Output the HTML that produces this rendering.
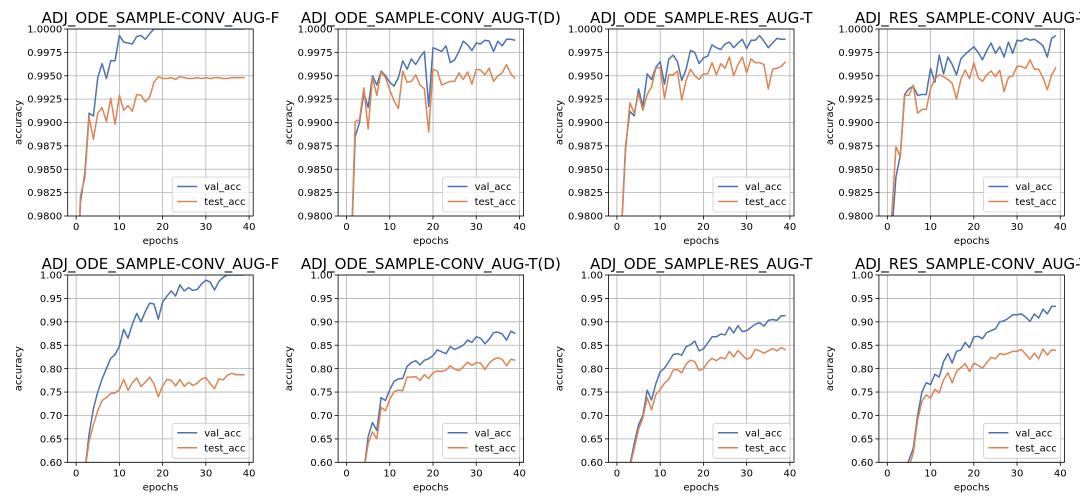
<!DOCTYPE html>
<html><head><meta charset="utf-8"><style>
html,body{margin:0;padding:0;background:#fff;width:1080px;height:504px;overflow:hidden;}
svg{display:block;font-family:"DejaVu Sans","Liberation Sans",sans-serif;}
</style></head><body>
<svg id="fig" width="1080" height="504" viewBox="0 0 1080 504" xmlns="http://www.w3.org/2000/svg"></svg>
<script>
const epochs = Array.from({length:40},(_,i)=>i);
const titles = ["ADJ_ODE_SAMPLE-CONV_AUG-F","ADJ_ODE_SAMPLE-CONV_AUG-T(D)","ADJ_ODE_SAMPLE-RES_AUG-T","ADJ_RES_SAMPLE-CONV_AUG-T"];
const xTicks = [0,10,20,30,40];
const yTicksTop = ["0.9800","0.9825","0.9850","0.9875","0.9900","0.9925","0.9950","0.9975","1.0000"];
const yTicksBottom = ["0.60","0.65","0.70","0.75","0.80","0.85","0.90","0.95","1.00"];

const val1 = [0.970,0.9815,0.9845,0.9910,0.9907,0.9948,0.9963,0.9947,0.9966,0.9966,0.9993,0.9986,0.9985,0.9984,0.9992,0.9993,0.9989,0.9995,1.0,1.0,1.0,1.0,1.0,1.0,1.0,1.0,1.0,1.0,1.0,1.0,1.0,1.0,1.0,1.0,1.0,1.0,1.0,1.0,1.0,1.0];
const test1 = [0.970,0.9822,0.9840,0.9906,0.9882,0.9910,0.9916,0.9901,0.9926,0.9898,0.9929,0.9913,0.9918,0.9912,0.9930,0.9929,0.9922,0.9927,0.9943,0.9949,0.9947,0.9947,0.9948,0.9946,0.9949,0.9948,0.9947,0.9947,0.9948,0.9947,0.9948,0.9947,0.9948,0.9948,0.9947,0.9947,0.9948,0.9948,0.9948,0.9948];
const val2 = [0.970,0.975,0.9885,0.9900,0.9932,0.9916,0.9950,0.9940,0.9955,0.9950,0.9943,0.9939,0.9948,0.9966,0.9957,0.9968,0.9962,0.9970,0.9976,0.9917,0.9980,0.9978,0.9976,0.9982,0.9964,0.9967,0.9976,0.9987,0.9983,0.9977,0.9985,0.9984,0.9988,0.9987,0.9976,0.9987,0.9982,0.9989,0.9989,0.9988];
const test2 = [0.970,0.975,0.9901,0.9903,0.9937,0.9893,0.9948,0.9929,0.9954,0.9948,0.9935,0.9923,0.9915,0.9955,0.9943,0.9944,0.9951,0.9940,0.9936,0.9890,0.9957,0.9955,0.9940,0.9942,0.9944,0.9944,0.9953,0.9946,0.9954,0.9941,0.9957,0.9956,0.9951,0.9958,0.9944,0.9950,0.9953,0.9962,0.9952,0.9947];
const val3 = [0.970,0.978,0.9875,0.9912,0.9907,0.9936,0.9917,0.9952,0.9946,0.9959,0.9965,0.9941,0.9968,0.9972,0.9965,0.9945,0.9957,0.9977,0.9975,0.9963,0.9969,0.9971,0.9983,0.9980,0.9978,0.9984,0.9986,0.9980,0.9985,0.9989,0.9979,0.9988,0.9988,0.9993,0.9987,0.9980,0.9985,0.9990,0.9989,0.9989];
const test3 = [0.970,0.978,0.9870,0.9921,0.9910,0.9931,0.9913,0.9930,0.9938,0.9958,0.9959,0.9926,0.9951,0.9951,0.9955,0.9924,0.9945,0.9957,0.9950,0.9946,0.9952,0.9952,0.9964,0.9951,0.9963,0.9958,0.9970,0.9950,0.9962,0.9970,0.9953,0.9968,0.9964,0.9964,0.9962,0.9936,0.9957,0.9958,0.9960,0.9965];
const val4 = [0.970,0.978,0.9842,0.9865,0.9930,0.9936,0.9939,0.9929,0.9930,0.9930,0.9958,0.9943,0.9972,0.9952,0.9970,0.9962,0.9951,0.9968,0.9973,0.9977,0.9981,0.9975,0.9967,0.9977,0.9985,0.9974,0.9981,0.9970,0.9986,0.9974,0.9988,0.9987,0.9990,0.9988,0.9989,0.9986,0.9982,0.9970,0.9990,0.9993];
const test4 = [0.970,0.980,0.9874,0.9863,0.9929,0.9929,0.9940,0.9910,0.9914,0.9914,0.9936,0.9947,0.9951,0.9949,0.9946,0.9942,0.9925,0.9946,0.9956,0.9947,0.9964,0.9948,0.9944,0.9951,0.9955,0.9949,0.9956,0.9933,0.9948,0.9950,0.9960,0.9960,0.9958,0.9967,0.9957,0.9957,0.9948,0.9935,0.9951,0.9959];
const val5 = [0.40,0.50,0.58,0.66,0.715,0.75,0.778,0.80,0.822,0.83,0.848,0.884,0.865,0.895,0.918,0.90,0.922,0.940,0.938,0.906,0.942,0.955,0.966,0.955,0.979,0.966,0.973,0.967,0.969,0.981,0.989,0.985,0.968,0.986,0.995,1.0,1.0,1.0,1.0,1.0];
const test5 = [0.40,0.50,0.58,0.645,0.68,0.71,0.732,0.738,0.747,0.748,0.755,0.777,0.754,0.770,0.780,0.762,0.771,0.782,0.768,0.740,0.763,0.777,0.775,0.763,0.777,0.762,0.771,0.764,0.769,0.778,0.781,0.768,0.757,0.778,0.776,0.786,0.790,0.787,0.787,0.787];
const val6 = [0.40,0.45,0.50,0.55,0.58,0.655,0.685,0.668,0.738,0.732,0.755,0.773,0.778,0.779,0.805,0.813,0.817,0.808,0.818,0.821,0.828,0.840,0.836,0.832,0.847,0.841,0.845,0.850,0.861,0.856,0.868,0.865,0.853,0.863,0.877,0.878,0.874,0.861,0.880,0.875];
const test6 = [0.40,0.45,0.50,0.55,0.58,0.64,0.665,0.650,0.717,0.710,0.735,0.751,0.754,0.753,0.782,0.782,0.783,0.775,0.787,0.779,0.791,0.795,0.794,0.797,0.806,0.799,0.796,0.804,0.814,0.807,0.813,0.812,0.798,0.812,0.820,0.823,0.820,0.806,0.820,0.818];
const val7 = [0.40,0.45,0.55,0.595,0.64,0.68,0.70,0.754,0.733,0.768,0.793,0.801,0.815,0.830,0.832,0.829,0.847,0.851,0.859,0.838,0.842,0.855,0.868,0.868,0.874,0.872,0.889,0.876,0.892,0.879,0.881,0.888,0.895,0.898,0.891,0.903,0.905,0.903,0.913,0.913];
const test7 = [0.40,0.45,0.55,0.59,0.63,0.67,0.695,0.738,0.712,0.745,0.755,0.769,0.777,0.797,0.798,0.791,0.810,0.818,0.815,0.796,0.800,0.814,0.822,0.817,0.824,0.821,0.837,0.825,0.839,0.829,0.820,0.824,0.841,0.838,0.833,0.838,0.843,0.838,0.845,0.840];
const val8 = [0.40,0.45,0.50,0.55,0.58,0.605,0.630,0.700,0.750,0.770,0.766,0.788,0.782,0.815,0.832,0.812,0.837,0.840,0.856,0.845,0.868,0.869,0.864,0.877,0.881,0.885,0.900,0.902,0.908,0.915,0.915,0.917,0.910,0.901,0.917,0.908,0.927,0.917,0.933,0.933];
const test8 = [0.40,0.45,0.50,0.55,0.57,0.59,0.62,0.690,0.730,0.744,0.737,0.756,0.748,0.776,0.791,0.770,0.794,0.802,0.811,0.794,0.812,0.807,0.801,0.813,0.824,0.821,0.832,0.830,0.833,0.837,0.837,0.841,0.831,0.820,0.833,0.821,0.842,0.829,0.840,0.839];

const valSeries = [val1,val2,val3,val4,val5,val6,val7,val8];
const testSeries = [test1,test2,test3,test4,test5,test6,test7,test8];

const NS = "http://www.w3.org/2000/svg";
const fig = document.getElementById('fig');
function mk(tag, attrs, parent){const e=document.createElementNS(NS,tag);for(const k in attrs)e.setAttribute(k,attrs[k]);(parent||fig).appendChild(e);return e;}
const defs = mk('defs',{});
const XMIN=-1.95, XMAX=40.95;

for(let p=0;p<8;p++){
  const row = Math.floor(p/4), col = p%4;
  const L = 67.7 + 270.4*col, W = 185.5;
  const T = row===0 ? 29 : 275, H = row===0 ? 187 : 187.3;
  const ticks = row===0 ? yTicksTop : yTicksBottom;
  const ymin = parseFloat(ticks[0]), ymax = parseFloat(ticks[ticks.length-1]);
  const xs = v => L + (v - XMIN)/(XMAX - XMIN)*W;
  const ys = v => T + H - (v - ymin)/(ymax - ymin)*H;
  const g = mk('g',{});
  
  
  const cp = mk('clipPath',{id:'cp'+p},defs);
  mk('rect',{x:L,y:T,width:W,height:H},cp);
  xTicks.forEach(t=>{
    const gl=mk('line',{x1:xs(t),x2:xs(t),y1:T,y2:T+H,stroke:'#b0b0b0','stroke-width':0.8},g);
    
    
    mk('line',{x1:xs(t),x2:xs(t),y1:T+H,y2:T+H+3.5,stroke:'#000','stroke-width':0.8},g);
    const tl=mk('text',{x:xs(t),y:T+H+14,'font-size':10,'text-anchor':'middle',fill:'#000'},g);
    tl.textContent=t;
    
    
  });
  ticks.forEach(s=>{
    const t=parseFloat(s);
    const gl=mk('line',{x1:L,x2:L+W,y1:ys(t),y2:ys(t),stroke:'#b0b0b0','stroke-width':0.8},g);
    
    
    mk('line',{x1:L-3.5,x2:L,y1:ys(t),y2:ys(t),stroke:'#000','stroke-width':0.8},g);
    const tl=mk('text',{x:L-5.5,y:ys(t)+3.6,'font-size':10,'text-anchor':'end',fill:'#000'},g);
    tl.textContent=s;
    
    
  });
  const lg = mk('g',{'clip-path':'url(#cp'+p+')'},g);
  const mkLine=(arr,color,name)=>{
    const d = arr.map((v,i)=>(i?'L':'M')+xs(epochs[i]).toFixed(2)+','+ys(v).toFixed(2)).join('');
    const pl=mk('path',{d:d,fill:'none',stroke:color,'stroke-width':1.5,'stroke-linejoin':'round'},lg);
    
    
  };
  mkLine(valSeries[p],'#4c72b0','val-acc-line');
  mkLine(testSeries[p],'#dd8452','test-acc-line');
  const fr=mk('rect',{x:L,y:T,width:W,height:H,fill:'none',stroke:'#000','stroke-width':0.8},g);
  
  
  const xl=mk('text',{x:L+W/2,y:T+H+28,'font-size':10,'text-anchor':'middle'},g);
  xl.textContent='epochs';
  
  
  const yx = L-46, yy = T+H/2;
  const yl=mk('text',{x:yx,y:yy,'font-size':10,'text-anchor':'middle',transform:'rotate(-90 '+yx+' '+yy+')'},g);
  yl.textContent='accuracy';
  
  
  const tt=mk('text',{x:L+W/2,y:T-6,'font-size':15,'text-anchor':'middle'},g);
  tt.textContent=titles[col];
  
  
  const lgG = mk('g',{},g);
  
  
  const lx=L+W-81, ly=T+H-39;
  mk('rect',{x:lx,y:ly,width:77,height:35,rx:2.5,fill:'#fff','fill-opacity':0.8,stroke:'#ccc','stroke-width':0.8},lgG);
  [['val_acc','#4c72b0'],['test_acc','#dd8452']].forEach((e,i)=>{
    const yy2 = ly+9.5+i*15;
    mk('line',{x1:lx+5,x2:lx+25,y1:yy2,y2:yy2,stroke:e[1],'stroke-width':1.5},lgG);
    const lt=mk('text',{x:lx+32,y:yy2+3.6,'font-size':10},lgG);
    lt.textContent=e[0];
    
    
  });
}
</script>
</body></html>
